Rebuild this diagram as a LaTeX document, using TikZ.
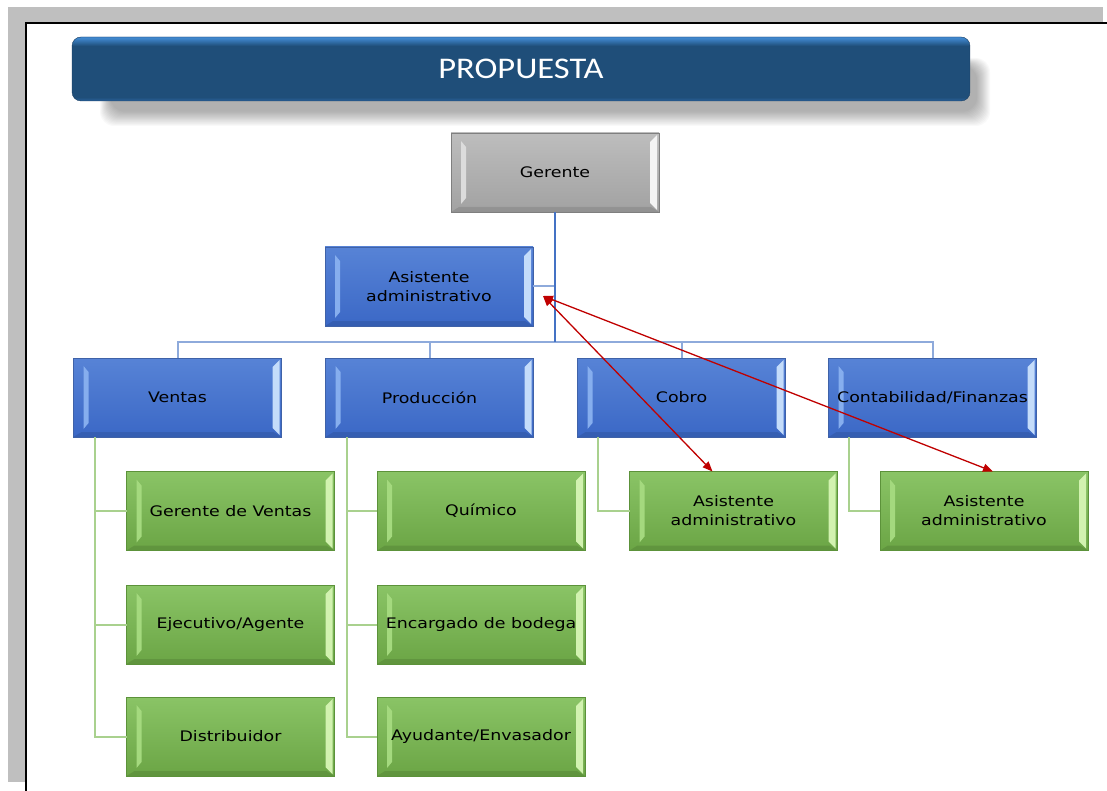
\documentclass[tikz,border=0pt]{standalone}
\usepackage{fontspec}
\newfontfamily\boxfont[FakeStretch=1.2]{DejaVu Sans}
\newfontfamily\titlefont[FakeStretch=1.15]{Carlito}
\usetikzlibrary{calc,arrows.meta}
\definecolor{pagegray}{HTML}{BFBFBF}
\definecolor{bluetop}{HTML}{5783D6}
\definecolor{bluebot}{HTML}{3B68C6}
\definecolor{bluebd}{HTML}{3F62A8}
\definecolor{bluebl}{HTML}{86AEEE}
\definecolor{bluebr}{HTML}{C4DCFA}
\definecolor{greentop}{HTML}{8AC466}
\definecolor{greenbot}{HTML}{6BA545}
\definecolor{greenbd}{HTML}{5C923A}
\definecolor{greenbl}{HTML}{A4D97E}
\definecolor{greenbr}{HTML}{D2F2B0}
\definecolor{graytop}{HTML}{BDBDBD}
\definecolor{graybot}{HTML}{A2A2A2}
\definecolor{graybd}{HTML}{7F7F7F}
\definecolor{graybl}{HTML}{DCDCDC}
\definecolor{graybr}{HTML}{F4F4F4}
\definecolor{tmain}{HTML}{1F4E79}
\definecolor{tedge}{HTML}{3F86CC}
\definecolor{tbot}{HTML}{2A609A}
\definecolor{trunk}{HTML}{4472C4}
\definecolor{buscol}{HTML}{8EAADB}
\definecolor{greenln}{HTML}{A9D18E}
\definecolor{redarr}{HTML}{C00000}
\pgfdeclareverticalshading{titleshade}{100bp}{color(0bp)=(tbot); color(25bp)=(tbot); color(28bp)=(tmain); color(68bp)=(tmain); color(74bp)=(tedge); color(100bp)=(tedge)}
\tikzset{
  bevelfx/.style 2 args={path picture={
    \fill[#1] ($(path picture bounding box.north west)+(10,8)$) -- ($(path picture bounding box.south west)+(10,-8)$)
       -- ($(path picture bounding box.south west)+(15,-14)$) -- ($(path picture bounding box.north west)+(15,14)$) -- cycle;
    \fill[#2] ($(path picture bounding box.north east)+(-2,2)$) -- ($(path picture bounding box.south east)+(-2,-2)$)
       -- ($(path picture bounding box.south east)+(-9,-9)$) -- ($(path picture bounding box.north east)+(-9,9)$) -- cycle;
    \fill[black,opacity=0.10] ($(path picture bounding box.south west)$) -- ($(path picture bounding box.south east)$)
       -- ($(path picture bounding box.south east)+(-8,-5)$) -- ($(path picture bounding box.south west)+(8,-5)$) -- cycle;
  }},
  orgbox/.style={rectangle, inner sep=0pt, outer sep=0pt, minimum width=208pt, minimum height=79pt,
    align=center, font=\boxfont\fontsize{14.5}{19}\selectfont, text=black, line width=0.8pt},
  bluebox/.style={orgbox, draw=bluebd, top color=bluetop, bottom color=bluebot, bevelfx={bluebl}{bluebr}},
  greenbox/.style={orgbox, draw=greenbd, top color=greentop, bottom color=greenbot, bevelfx={greenbl}{greenbr}},
  graybox/.style={orgbox, draw=graybd, top color=graytop, bottom color=graybot, bevelfx={graybl}{graybr}},
  titlebox/.style={rectangle, rounded corners=9pt, minimum width=898pt, minimum height=64pt, inner sep=0pt,
    shading=titleshade, draw=tmain!80!black, line width=0.4pt, text=white, font=\titlefont\fontsize{30}{34}\selectfont},
  trunkline/.style={draw=trunk, line width=2.5pt},
  busline/.style={draw=buscol, line width=2pt},
  greenline/.style={draw=greenln, line width=2pt},
  redline/.style={draw=redarr, line width=1.3pt, {Triangle[length=10pt,width=8pt]}-{Triangle[length=10pt,width=8pt]}},
}
\begin{document}
\begin{tikzpicture}[x=1pt,y=-1pt]
\useasboundingbox (0,0) rectangle (1107,791);
\fill[white] (0,0) rectangle (1107,791);
% page frame
\fill[pagegray] (8,7) rectangle (1103,22);
\fill[pagegray] (8,22) rectangle (25,782);
\draw[black, line width=2pt] (26,791) -- (26,23) -- (1107,23);
% title shadow
\foreach \k in {0,...,13} {
  \fill[black, opacity=0.025, rounded corners=14pt] (100+\k*0.8,58+\k*0.6) rectangle (990-\k*1.0,126-\k*1.1);
}
\node[titlebox] (title) at (521,69) {PROPUESTA};
% boxes
\node[graybox] (gerente) at (555,172.5) {Gerente};
\node[bluebox] (asist) at (429,286.5) {Asistente\\administrativo};
\node[bluebox] (ventas) at (177.5,397.5) {Ventas};
\node[bluebox] (prod) at (429.5,397.5) {Producción};
\node[bluebox] (cobro) at (681.5,397.5) {Cobro};
\node[bluebox] (conta) at (932.5,397.5) {Contabilidad/Finanzas};
\node[greenbox] (gv) at (230.5,511) {Gerente de Ventas};
\node[greenbox] (ej) at (230.5,624.5) {Ejecutivo/Agente};
\node[greenbox] (dist) at (230.5,736.5) {Distribuidor};
\node[greenbox] (quim) at (481,511) {Químico};
\node[greenbox] (enc) at (481,624.5) {Encargado de bodega};
\node[greenbox] (ayu) at (481,736.5) {Ayudante/Envasador};
\node[greenbox] (ca1) at (733.5,511) {Asistente\\administrativo};
\node[greenbox] (ca2) at (984,511) {Asistente\\administrativo};
% coordinates
\coordinate (bus) at (555,342);
\coordinate (vx) at (95,0);
\coordinate (px) at (347,0);
\coordinate (cx) at (598,0);
\coordinate (fx) at (849,0);
\coordinate (ra) at (543,296);
% blue connectors
\draw[busline] (ventas.north) |- (bus);
\draw[busline] (conta.north) |- (bus);
\draw[busline] (prod.north) -- (prod.north |- bus);
\draw[busline] (cobro.north) -- (cobro.north |- bus);
\draw[busline] (asist.east) -- (asist.east -| bus);
\draw[trunkline] (gerente.south) -- (bus);
% green connectors
\draw[greenline] (ventas.south -| vx) |- (dist.west);
\draw[greenline] (gv.west -| vx) -- (gv.west);
\draw[greenline] (ej.west -| vx) -- (ej.west);
\draw[greenline] (prod.south -| px) |- (ayu.west);
\draw[greenline] (quim.west -| px) -- (quim.west);
\draw[greenline] (enc.west -| px) -- (enc.west);
\draw[greenline] (cobro.south -| cx) |- (ca1.west);
\draw[greenline] (conta.south -| fx) |- (ca2.west);
% red arrows
\draw[redline] (ra) -- ($(ca1.north)+(-21,0)$);
\draw[redline] (ra) -- ($(ca2.north)+(9,0)$);
\end{tikzpicture}
\end{document}
